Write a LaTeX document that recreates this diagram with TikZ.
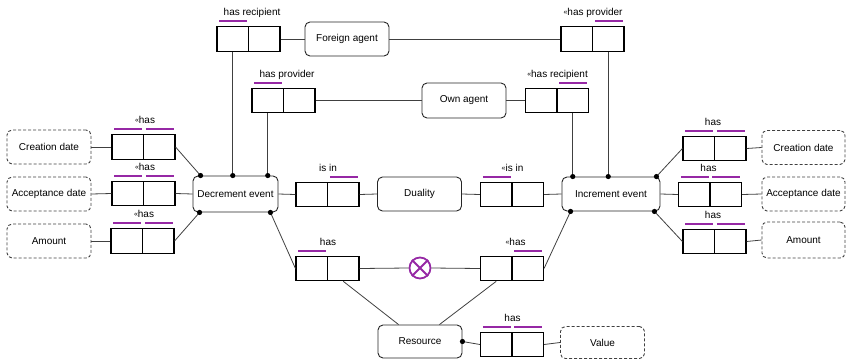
\documentclass[tikz,border=0pt]{standalone}
\usepackage{fontspec}
\setmainfont{Liberation Sans}
\definecolor{pur}{RGB}{150,40,165}
\newcommand{\revmark}{\raisebox{0.8pt}{\fontsize{7}{7}\selectfont «}}
\newcommand{\relbox}[3]{%
  \node[cell] (#1L) at (#2-15.75,#3) {};
  \node[cell] (#1R) at (#2+15.75,#3) {};}
\newcommand{\barover}[1]{%
  \draw[bar] ([xshift=3pt,yshift=5pt]#1.north west) -- ([xshift=-2pt,yshift=5pt]#1.north east);}
\newcommand{\rellabel}[3]{%
  \node[lbl, anchor=base] (#1lab) at ([xshift=#2pt,yshift=10.5pt]#1L.north east) {#3};}
\begin{document}
\begin{tikzpicture}[x=1pt,y=-1pt,
  ent/.style={draw=black!85, line width=0.9pt, rounded corners=5pt, minimum width=84pt, minimum height=34pt, inner sep=0pt, font=\fontsize{10}{12}\selectfont},
  attr/.style={ent, dash pattern=on 3pt off 2pt, draw=black!75},
  cell/.style={draw=black, line width=1.1pt, minimum width=31.5pt, minimum height=24.5pt, inner sep=0pt},
  lbl/.style={font=\fontsize{10}{12}\selectfont, inner sep=0pt},
  bar/.style={draw=pur, line width=2.3pt},
  conn/.style={draw=black!75, line width=0.8pt},
]
\useasboundingbox (0,0) rectangle (846,359);

% entities
\node[ent] (foreign) at (347,39) {Foreign agent};
\node[ent, minimum height=35pt] (own) at (464,100.5) {Own agent};
\node[ent, minimum width=85pt, minimum height=36pt] (dec) at (235.5,194) {Decrement event};
\node[ent] (dual) at (419.5,194) {Duality};
\node[ent, minimum width=98pt] (inc) at (611,194) {Increment event};
\node[ent, minimum height=33pt] (res) at (420,341.5) {Resource};

% attributes
\node[attr] (lcd) at (49,147) {Creation date};
\node[attr] (lad) at (49,194) {Acceptance date};
\node[attr] (lam) at (49,241) {Amount};
\node[attr, minimum width=83pt] (rcd) at (803.5,147.5) {Creation date};
\node[attr, minimum width=83pt] (rad) at (803.5,194) {Acceptance date};
\node[attr, minimum width=83pt, minimum height=36pt] (ram) at (803.5,240) {Amount};
\node[attr, minimum height=32pt] (val) at (602.5,342.5) {Value};

% relation boxes
\relbox{rA}{248.5}{39}
\relbox{rB}{283.5}{100.5}
\relbox{rC}{592.5}{39}
\relbox{rD}{557}{100.5}
\relbox{rE}{143.5}{147}
\relbox{rF}{143.5}{193.5}
\relbox{rG}{142.5}{241}
\relbox{rH}{327.5}{194.5}
\relbox{rI}{512}{194.5}
\relbox{rJ}{714.5}{148.5}
\relbox{rK}{710}{194.5}
\relbox{rL}{714.5}{241.5}
\relbox{rM}{327.5}{268.5}
\relbox{rN}{512}{268.5}
\relbox{rO}{512}{344.5}

% labels
\rellabel{rA}{3}{has recipient}
\rellabel{rB}{3}{has provider}
\rellabel{rC}{0}{\revmark has provider}
\rellabel{rD}{0}{\revmark has recipient}
\rellabel{rE}{1}{\revmark has}
\rellabel{rF}{1}{\revmark has}
\rellabel{rG}{1}{\revmark has}
\rellabel{rH}{0}{is in}
\rellabel{rI}{0}{\revmark is in}
\rellabel{rJ}{-2}{has}
\rellabel{rK}{-2}{has}
\rellabel{rL}{-2}{has}
\rellabel{rM}{0}{has}
\rellabel{rN}{3}{\revmark has}
\rellabel{rO}{0}{has}

% bars
\barover{rAL}
\barover{rBL}
\barover{rCR}
\barover{rDR}
\barover{rEL}\barover{rER}
\barover{rFL}\barover{rFR}
\barover{rGL}\barover{rGR}
\barover{rHR}
\barover{rIL}
\barover{rJL}\barover{rJR}
\barover{rKL}\barover{rKR}
\barover{rLL}\barover{rLR}
\barover{rML}
\barover{rNR}
\barover{rOL}\barover{rOR}

% cross
\node[circle, draw=pur, line width=1.8pt, minimum size=21pt, inner sep=0pt] (cross) at (420,268) {};
\draw[pur, line width=1.8pt] (cross.north west) -- (cross.south east) (cross.north east) -- (cross.south west);

% dot coordinates
\coordinate (dTL) at ([xshift=8pt]dec.north west);
\coordinate (dT1) at (rAL.south |- dec.north);
\coordinate (dT2) at (rBL.south |- dec.north);
\coordinate (dBL) at ([xshift=7pt]dec.south west);
\coordinate (dBR) at ([xshift=-8pt]dec.south east);
\coordinate (iT1) at (rDR.south |- inc.north);
\coordinate (iT2) at (rCR.south |- inc.north);
\coordinate (iTR) at ([xshift=-4pt]inc.north east);
\coordinate (iBL) at ([xshift=9pt]inc.south west);
\coordinate (iBR) at ([xshift=-6pt]inc.south east);
\coordinate (rE) at (res.east);

% connectors
\draw[conn] (rAR.east) -- (foreign.west);
\draw[conn] (foreign.east) -- (rCL.west);
\draw[conn] (rBR.east) -- (own.west);
\draw[conn] (own.east) -- (rDL.west);
\draw[conn] (rAL.south) -- (dT1);
\draw[conn] (rBL.south) -- (dT2);
\draw[conn] (rCR.south) -- (iT2);
\draw[conn] (rDR.south) -- (iT1);

\draw[conn] (lcd.east) -- (rEL.west);
\draw[conn] (rER.east) -- (dTL);
\draw[conn] (lad.east) -- (rFL.west);
\draw[conn] (rFR.east) -- (dec.west);
\draw[conn] (lam.east) -- (rGL.west);
\draw[conn] (rGR.east) -- (dBL);

\draw[conn] (dec.east) -- (rHL.west);
\draw[conn] (rHR.east) -- (dual.west);
\draw[conn] (dual.east) -- (rIL.west);
\draw[conn] (rIR.east) -- (inc.west);

\draw[conn] (iTR) -- (rJL.west);
\draw[conn] (rJR.east) -- (rcd.west);
\draw[conn] (inc.east) -- (rKL.west);
\draw[conn] (rKR.east) -- (rad.west);
\draw[conn] (iBR) -- (rLL.west);
\draw[conn] (rLR.east) -- (ram.west);

\draw[conn] (dBR) -- (rML.west);
\draw[conn] (rMR.east) -- (cross.west);
\draw[conn] (cross.east) -- (rNL.west);
\draw[conn] (rNR.east) -- (iBL);
\draw[conn] (rMR.south) -- ([xshift=21pt]res.north west);
\draw[conn] (rNL.south) -- ([xshift=-23pt]res.north east);
\draw[conn] (rE) -- (rOL.west);
\draw[conn] (rOR.east) -- (val.west);

% dots
\foreach \p in {dTL,dT1,dT2,dBL,dBR,iT1,iT2,iTR,iBL,iBR,rE}
  \fill (\p) circle (2.6pt);
\end{tikzpicture}
\end{document}
